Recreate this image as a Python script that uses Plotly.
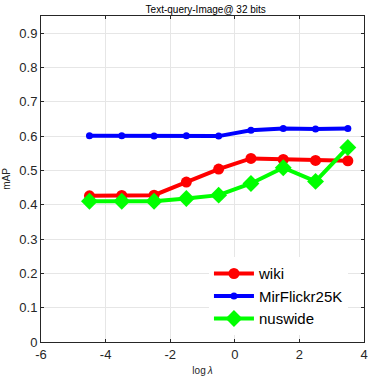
import plotly.graph_objects as go

log_lambda = [-4.5, -3.5, -2.5, -1.5, -0.5, 0.5, 1.5, 2.5, 3.5]
wiki = [0.426, 0.427, 0.428, 0.466, 0.504, 0.535, 0.532, 0.529, 0.528]
mirflickr = [0.601, 0.601, 0.600, 0.601, 0.600, 0.617, 0.622, 0.621, 0.622]
nuswide = [0.410, 0.410, 0.410, 0.418, 0.428, 0.462, 0.508, 0.468, 0.567]

x_ticks = [-6, -4, -2, 0, 2, 4]
x_labels = ["-6", "-4", "-2", "0", "2", "4"]
y_ticks = [0, 0.1, 0.2, 0.3, 0.4, 0.5, 0.6, 0.7, 0.8, 0.9]
y_labels = ["0", "0.1", "0.2", "0.3", "0.4", "0.5", "0.6", "0.7", "0.8", "0.9"]

fig = go.Figure()
fig.add_trace(go.Scatter(x=log_lambda, y=wiki, name="wiki", mode="lines+markers",
                         line=dict(color="#ff0000", width=4),
                         marker=dict(symbol="circle", size=11, color="#ff0000")))
fig.add_trace(go.Scatter(x=log_lambda, y=mirflickr, name="MirFlickr25K", mode="lines+markers",
                         line=dict(color="#0000ff", width=4),
                         marker=dict(symbol="circle", size=7, color="#0000ff")))
fig.add_trace(go.Scatter(x=log_lambda, y=nuswide, name="nuswide", mode="lines+markers",
                         line=dict(color="#00ff00", width=4),
                         marker=dict(symbol="diamond", size=13, color="#00ff00")))

axis_style = dict(showline=True, linecolor="#262626", linewidth=1, mirror="ticks",
                  ticks="inside", ticklen=3, tickcolor="#262626",
                  showgrid=True, gridcolor="#e6e6e6", gridwidth=1, zeroline=False,
                  tickfont=dict(size=13, color="#262626"))

fig.update_xaxes(range=[-6, 4], tickvals=x_ticks, ticktext=x_labels,
                 title=dict(text="log\u2009<i>λ</i>", font=dict(size=10, color="#262626"), standoff=6),
                 **axis_style)
fig.update_yaxes(range=[0, 0.95], tickvals=y_ticks, ticktext=y_labels,
                 title=dict(text="mAP", font=dict(size=10, color="#262626"), standoff=6),
                 **axis_style)

fig.update_layout(
    width=374, height=381,
    margin=dict(l=39, r=6, t=16, b=38),
    paper_bgcolor="white", plot_bgcolor="white",
    font=dict(family="Liberation Sans, Arial, sans-serif", color="#262626"),
    title=dict(text="Text-query-Image@ 32 bits", x=0.55, xanchor="center", y=0.985, yanchor="top",
               font=dict(size=10, color="#000000")),
    legend=dict(x=0.52, y=0.26, xanchor="left", yanchor="top", bgcolor="white",
                font=dict(size=15, color="#000000"), itemwidth=40,
                tracegroupgap=0),
    showlegend=True,
)

fig.write_html("out.html", config={"displayModeBar": False},
               post_script="document.body.style.margin='0';")
